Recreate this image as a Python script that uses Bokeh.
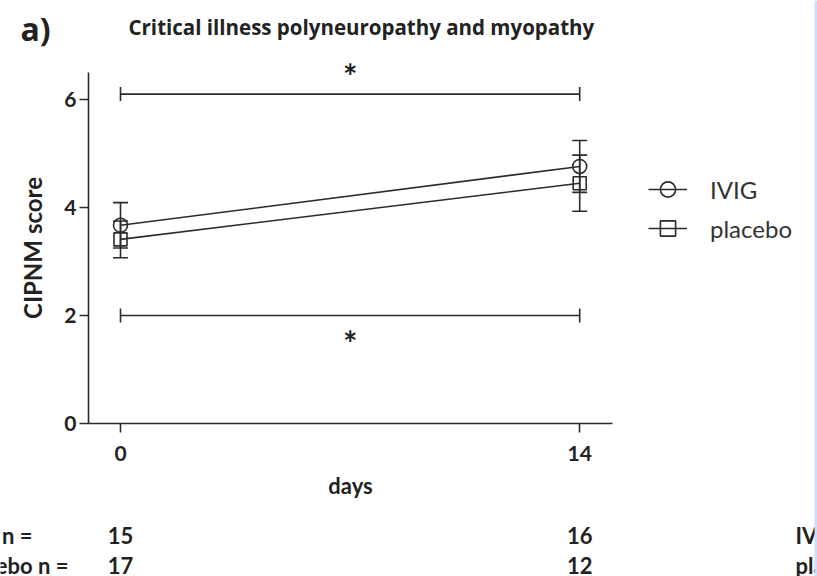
from bokeh.plotting import figure
from bokeh.models import (ColumnDataSource, Range1d, FixedTicker, Whisker, TeeHead,
                          Label, Legend, LegendItem, BoxAnnotation)
from bokeh.embed import file_html
from bokeh.resources import INLINE

# ---- data ----
days = [0, 14]
ivig_mean = [3.67, 4.76]
ivig_sem = [0.42, 0.48]
placebo_mean = [3.41, 4.45]
placebo_sem = [0.34, 0.52]
n_ivig = [15, 16]
n_placebo = [17, 12]
sig_levels = [6.1, 2.0]
y_ticks = [0, 2, 4, 6]
x_ticks = [0, 14]

FONT = "Lato"
TFONT = "Open Sans"
INK = "#222222"
LINE = "#2b2b2b"
W, H = 817, 576
X0PX, XPX = 120, 32.8     # screen x of day 0, px per day
Y0PX, YPX = 423, 54.0     # screen y of score 0, px per unit

x_lo = -X0PX / XPX
x_hi = (W - X0PX) / XPX
y_lo = -(H - Y0PX) / YPX
y_hi = Y0PX / YPX

p = figure(width=W, height=H, output_backend="svg", toolbar_location=None,
           x_range=Range1d(x_lo, x_hi), y_range=Range1d(y_lo, y_hi),
           min_border=0, outline_line_color=None)
p.grid.visible = False

x_axis_start = -0.98
x_axis_end = 15.0
y_axis_end = 6.5

for ax in (p.xaxis[0], p.yaxis[0]):
    ax.axis_line_color = LINE
    ax.axis_line_width = 1.6
    ax.major_tick_line_color = LINE
    ax.major_tick_line_width = 1.6
    ax.major_tick_out = 9
    ax.major_tick_in = 0
    ax.minor_tick_out = 0
    ax.minor_tick_in = 0
    ax.major_label_text_font = FONT
    ax.major_label_text_font_style = "bold"
    ax.major_label_text_font_size = "21px"
    ax.major_label_text_color = INK
    ax.axis_label_text_font = FONT
    ax.axis_label_text_font_style = "bold"
    ax.axis_label_text_color = INK

p.yaxis.fixed_location = x_axis_start
p.yaxis.bounds = (0, y_axis_end)
p.xaxis.fixed_location = 0
p.xaxis.bounds = (x_axis_start, x_axis_end)
p.yaxis.ticker = FixedTicker(ticks=y_ticks)
p.xaxis.ticker = FixedTicker(ticks=x_ticks)
p.yaxis.axis_label = "CIPNM score"
p.yaxis.axis_label_text_font_size = "24px"
p.yaxis.axis_label_standoff = 14
p.yaxis.major_label_standoff = 3
p.xaxis.axis_label = "days"
p.xaxis.axis_label_text_font_size = "22px"
p.xaxis.axis_label_standoff = 8
p.xaxis.major_label_standoff = 13

# ---- series ----
src_i = ColumnDataSource(dict(x=days, y=ivig_mean,
                              lo=[m - s for m, s in zip(ivig_mean, ivig_sem)],
                              hi=[m + s for m, s in zip(ivig_mean, ivig_sem)]))
src_p = ColumnDataSource(dict(x=days, y=placebo_mean,
                              lo=[m - s for m, s in zip(placebo_mean, placebo_sem)],
                              hi=[m + s for m, s in zip(placebo_mean, placebo_sem)]))

li = p.line("x", "y", source=src_i, line_color=LINE, line_width=1.6)
si = p.scatter("x", "y", source=src_i, marker="circle", size=14, fill_alpha=0,
               line_color=LINE, line_width=1.6)
lp = p.line("x", "y", source=src_p, line_color=LINE, line_width=1.6)
sp = p.scatter("x", "y", source=src_p, marker="square", size=13, fill_alpha=0,
               line_color=LINE, line_width=1.6)

for src in (src_i, src_p):
    p.add_layout(Whisker(source=src, base="x", upper="hi", lower="lo", dimension="height",
                         line_color=LINE, line_width=1.6,
                         upper_head=TeeHead(size=15, line_color=LINE, line_width=1.6),
                         lower_head=TeeHead(size=15, line_color=LINE, line_width=1.6)))

# significance brackets
sig_src = ColumnDataSource(dict(y=sig_levels, x0=[days[0]] * 2, x1=[days[1]] * 2))
p.add_layout(Whisker(source=sig_src, base="y", lower="x0", upper="x1", dimension="width",
                     line_color=LINE, line_width=1.6,
                     upper_head=TeeHead(size=14, line_color=LINE, line_width=1.6),
                     lower_head=TeeHead(size=14, line_color=LINE, line_width=1.6)))
mid = (days[0] + days[1]) / 2
p.add_layout(Label(x=mid, y=sig_levels[0], y_offset=19, text="*", text_font=FONT,
                   text_font_size="34px", text_font_style="bold", text_align="center",
                   text_baseline="middle", text_color=INK))
p.add_layout(Label(x=mid, y=sig_levels[1], y_offset=-27, text="*", text_font=FONT,
                   text_font_size="34px", text_font_style="bold", text_align="center",
                   text_baseline="middle", text_color=INK))

# ---- legend ----
legend = Legend(items=[LegendItem(label="IVIG", renderers=[li, si]),
                       LegendItem(label="placebo", renderers=[lp, sp])],
                location=(648, H - 247), orientation="vertical",
                glyph_width=39, glyph_height=38, label_height=38, spacing=1,
                label_standoff=23, padding=0, margin=0,
                border_line_color=None, background_fill_alpha=0,
                label_text_font=FONT, label_text_font_size="24px",
                label_text_color="#333333")
p.add_layout(legend, "center")

# ---- titles ----
p.add_layout(Label(x=20, y=H - 28, x_units="screen", y_units="screen", text="a)",
                   text_font=TFONT, text_font_style="bold", text_font_size="32px",
                   text_baseline="middle", text_color=INK))
p.add_layout(Label(x=128, y=H - 26, x_units="screen", y_units="screen",
                   text="Critical illness polyneuropathy and myopathy",
                   text_font=TFONT, text_font_style="bold", text_font_size="20.5px",
                   text_baseline="middle", text_color=INK))

# ---- n table ----
row_y = [-(535 - Y0PX) / YPX, -(565 - Y0PX) / YPX]
row_labels = ["IVIG n =", "placebo n ="]
row_right_px = [32, 68]
for ry, lab, rpx in zip(row_y, row_labels, row_right_px):
    p.add_layout(Label(x=(rpx - X0PX) / XPX, y=ry, text=lab, text_font=FONT,
                       text_font_style="bold", text_font_size="22px", text_align="right",
                       text_baseline="middle", text_color=INK))
for xi, a, b in zip(days, n_ivig, n_placebo):
    for ry, v in zip(row_y, (a, b)):
        p.add_layout(Label(x=xi, y=ry, text=str(v), text_font=FONT, text_font_style="bold",
                           text_font_size="22px", text_align="center", text_baseline="middle",
                           text_color=INK))
for ry, lab in zip(row_y, row_labels):
    p.add_layout(Label(x=(795 - X0PX) / XPX, y=ry, text=lab, text_font=FONT,
                       text_font_style="bold", text_font_size="22px",
                       text_baseline="middle", text_color=INK))

# light blue page edge
p.add_layout(BoxAnnotation(left=(814 - X0PX) / XPX, fill_color="#cddfff", fill_alpha=1,
                           line_color=None))

open("out.html", "w").write(file_html(p, INLINE))
